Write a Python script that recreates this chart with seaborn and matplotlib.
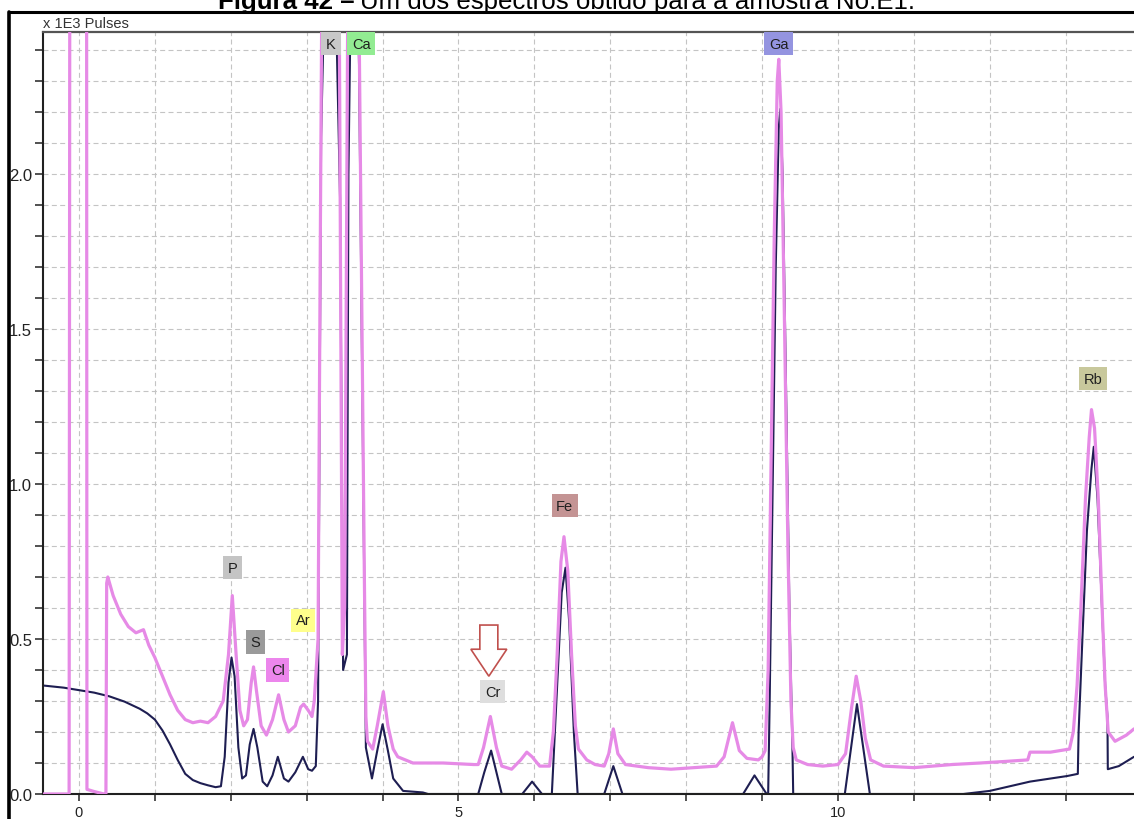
import numpy as np
import pandas as pd
import matplotlib
matplotlib.use("Agg")
import matplotlib.pyplot as plt
from matplotlib.lines import Line2D
from matplotlib.patches import FancyArrow
import seaborn as sns

# ---- spectrum data (energy in keV, intensity in 1E3 pulses) ----
fit_energy = [-0.474, -0.2, 0.0, 0.2, 0.4, 0.6, 0.8, 0.9, 1.0, 1.1, 1.2, 1.3, 1.4, 1.5,
              1.6, 1.7, 1.8, 1.87, 1.92, 1.97, 2.01, 2.05, 2.10, 2.15, 2.20, 2.25, 2.30,
              2.35, 2.42, 2.48, 2.55, 2.62, 2.70, 2.76, 2.85, 2.95, 3.02, 3.07, 3.12,
              3.15, 3.19, 3.31, 3.44, 3.48, 3.53, 3.55, 3.62, 3.69, 3.76, 3.78, 3.86,
              3.93, 4.00, 4.07, 4.14, 4.27, 4.53, 4.60, 5.26, 5.34, 5.43, 5.50, 5.57,
              5.84, 5.97, 6.10, 6.23, 6.30, 6.36, 6.41, 6.46, 6.52, 6.57, 6.92, 7.04,
              7.16, 8.75, 8.90, 9.06, 9.08, 9.10, 9.14, 9.18, 9.22, 9.24, 9.27, 9.31,
              9.36, 9.40, 9.41, 9.41, 10.09, 10.25, 10.42, 11.65, 12.0, 12.53, 13.02,
              13.16, 13.17, 13.22, 13.28, 13.34, 13.37, 13.42, 13.47, 13.52, 13.55,
              13.555, 13.7, 13.9]
fit_counts = [0.350, 0.343, 0.335, 0.327, 0.315, 0.298, 0.275, 0.26, 0.24, 0.205, 0.16,
              0.11, 0.065, 0.045, 0.035, 0.028, 0.022, 0.025, 0.12, 0.36, 0.44, 0.38,
              0.15, 0.05, 0.06, 0.16, 0.21, 0.15, 0.04, 0.025, 0.06, 0.12, 0.05, 0.04,
              0.07, 0.12, 0.08, 0.075, 0.09, 0.30, 2.12, 3.40, 1.92, 0.40, 0.45, 2.00,
              3.30, 2.35, 0.65, 0.15, 0.05, 0.14, 0.225, 0.14, 0.05, 0.01, 0.005, 0.0,
              0.0, 0.07, 0.14, 0.07, 0.0, 0.0, 0.04, 0.0, 0.0, 0.35, 0.65, 0.73, 0.55,
              0.20, 0.0, 0.0, 0.09, 0.0, 0.0, 0.06, 0.0, 0.0, 0.30, 1.00, 1.70, 2.15,
              2.21, 2.00, 1.40, 0.60, 0.15, 0.0, 0.0, 0.0, 0.29, 0.0, 0.0, 0.01, 0.04,
              0.058, 0.065, 0.20, 0.50, 0.85, 1.05, 1.12, 0.95, 0.65, 0.35, 0.25, 0.08,
              0.09, 0.12]

meas_energy = [-0.474, -0.13, -0.12, 0.10, 0.105, 0.20, 0.33, 0.355, 0.365, 0.38, 0.45,
               0.55, 0.65, 0.75, 0.85, 0.92, 1.0, 1.1, 1.2, 1.3, 1.4, 1.5, 1.6, 1.7, 1.8,
               1.9, 1.97, 2.02, 2.07, 2.12, 2.17, 2.22, 2.27, 2.30, 2.34, 2.40, 2.47,
               2.55, 2.63, 2.70, 2.76, 2.85, 2.92, 2.96, 3.02, 3.07, 3.10, 3.15, 3.18,
               3.20, 3.30, 3.43, 3.47, 3.50, 3.54, 3.62, 3.69, 3.76, 3.78, 3.80, 3.87,
               3.93, 4.01, 4.07, 4.14, 4.20, 4.30, 4.40, 4.8, 5.2, 5.26, 5.33, 5.42,
               5.50, 5.57, 5.70, 5.82, 5.90, 5.97, 6.07, 6.20, 6.25, 6.30, 6.35, 6.39,
               6.44, 6.49, 6.54, 6.58, 6.69, 6.80, 6.92, 6.98, 7.04, 7.10, 7.20, 7.50,
               7.80, 8.10, 8.40, 8.50, 8.61, 8.70, 8.80, 8.95, 9.00, 9.04, 9.08, 9.12,
               9.16, 9.20, 9.22, 9.25, 9.29, 9.34, 9.38, 9.41, 9.45, 9.60, 9.80, 10.0,
               10.10, 10.18, 10.24, 10.30, 10.36, 10.43, 10.60, 11.0, 11.5, 11.87, 12.2,
               12.5, 12.53, 12.8, 13.05, 13.10, 13.15, 13.20, 13.26, 13.31, 13.34, 13.38,
               13.43, 13.48, 13.52, 13.56, 13.65, 13.8, 13.9]
meas_counts = [0.0, 0.0, 3.0, 3.0, 0.015, 0.008, 0.0, 0.0, 0.68, 0.70, 0.64, 0.58, 0.54,
               0.52, 0.53, 0.48, 0.44, 0.38, 0.32, 0.27, 0.24, 0.23, 0.235, 0.23, 0.25,
               0.30, 0.45, 0.64, 0.45, 0.27, 0.22, 0.24, 0.36, 0.41, 0.33, 0.22, 0.19,
               0.24, 0.32, 0.24, 0.20, 0.22, 0.28, 0.29, 0.27, 0.25, 0.30, 0.50, 1.80,
               2.60, 3.80, 2.50, 0.45, 0.60, 2.50, 3.50, 2.50, 0.70, 0.25, 0.17, 0.145,
               0.22, 0.33, 0.22, 0.145, 0.12, 0.11, 0.10, 0.10, 0.095, 0.095, 0.15, 0.25,
               0.15, 0.09, 0.08, 0.11, 0.135, 0.12, 0.09, 0.09, 0.20, 0.45, 0.75, 0.83,
               0.72, 0.45, 0.22, 0.145, 0.11, 0.095, 0.09, 0.13, 0.21, 0.13, 0.095, 0.085,
               0.08, 0.085, 0.09, 0.12, 0.23, 0.14, 0.115, 0.11, 0.12, 0.14, 0.40, 1.10,
               1.80, 2.30, 2.37, 2.20, 1.60, 0.80, 0.30, 0.15, 0.11, 0.095, 0.09, 0.095,
               0.13, 0.28, 0.38, 0.30, 0.18, 0.11, 0.09, 0.085, 0.095, 0.10, 0.105, 0.11,
               0.135, 0.135, 0.145, 0.20, 0.35, 0.60, 0.95, 1.15, 1.24, 1.18, 0.95, 0.60,
               0.35, 0.20, 0.17, 0.19, 0.21]

# element markers: name, line energy, label height
element_names = ["P", "S", "Cl", "Ar", "K", "Ca", "Cr", "Fe", "Ga", "Rb"]
element_energy = [2.02, 2.32, 2.62, 2.95, 3.32, 3.72, 5.45, 6.40, 9.22, 13.36]
element_label_y = [0.73, 0.49, 0.40, 0.56, 2.42, 2.42, 0.33, 0.93, 2.42, 1.34]
element_colors = {"P": "#c4c4c4", "S": "#9a9a9a", "Cl": "#ec86ec", "Ar": "#ffff8c",
                  "K": "#c8c8c8", "Ca": "#92ec92", "Cr": "#dedede", "Fe": "#c49494",
                  "Ga": "#9494e0", "Rb": "#c8c89c"}

cr_arrow_top = 0.545
cr_arrow_tip = 0.38

y_ticks = np.round(np.arange(0.0, 2.41, 0.1), 1)
x_ticks = np.arange(0, 14, 1)

fit_df = pd.DataFrame({"energy": fit_energy, "counts": fit_counts})
meas_df = pd.DataFrame({"energy": meas_energy, "counts": meas_counts})

sns.set_theme(style="white")
plt.rcParams["font.family"] = ["Liberation Sans", "DejaVu Sans"]

W, H = 1134, 820
fig = plt.figure(figsize=(W / 100, H / 100), dpi=100)
fig.patch.set_facecolor("white")
ax = fig.add_axes([43 / W, 1 - 795 / H, 1 - 43 / W, (795 - 33) / H])
ax.set_facecolor("white")

# dashed grid
for yv in y_ticks[1:]:
    ax.axhline(yv, color="#c4c4c4", lw=0.8, ls=(0, (4.5, 3)), zorder=0)
for xv in x_ticks:
    ax.axvline(xv, color="#c4c4c4", lw=0.8, ls=(0, (4.5, 3)), zorder=0)

sns.lineplot(data=fit_df, x="energy", y="counts", sort=False, estimator=None,
             color="#1e1e52", lw=1.5, ax=ax, zorder=2)
sns.lineplot(data=meas_df, x="energy", y="counts", sort=False, estimator=None,
             color="#e68ae6", lw=2.3, ax=ax, zorder=3)

ax.set_xlim(-0.474, 13.90)
ax.set_ylim(0, 2.458)
ax.set_xlabel("")
ax.set_ylabel("")

ax.set_yticks(y_ticks)
ax.set_yticklabels([f"{v:.1f}" if abs(v * 2 - round(v * 2)) < 1e-6 else "" for v in y_ticks])
ax.set_xticks(x_ticks)
ax.set_xticklabels([str(v) if v % 5 == 0 else "" for v in x_ticks])
ax.tick_params(axis="y", direction="out", length=6, width=1.2, color="#333333",
               labelsize=12, labelcolor="#222222", pad=2, left=True)
ax.tick_params(axis="x", direction="out", length=5, width=1.2, color="#333333",
               labelsize=10.5, labelcolor="#222222", pad=3, bottom=True)

for side in ["left", "bottom"]:
    ax.spines[side].set_color("#202020")
    ax.spines[side].set_linewidth(1.5)
ax.spines["top"].set_color("#555555")
ax.spines["top"].set_linewidth(1.6)
ax.spines["right"].set_visible(False)

# element labels
for name, ex, ly in zip(element_names, element_energy, element_label_y):
    ax.text(ex, ly, name, ha="center", va="center", fontsize=10.5, color="#202020",
            zorder=5, bbox=dict(boxstyle="square,pad=0.32", fc=element_colors[name], ec="none"))

# hollow arrow pointing at the Cr line
cr_x = element_energy[element_names.index("Cr")] - 0.05
ax.add_patch(FancyArrow(cr_x, cr_arrow_top, 0, cr_arrow_tip - cr_arrow_top,
                        width=0.237, head_width=0.474, head_length=0.087,
                        length_includes_head=True, fc="white", ec="#c0504d", lw=1.2,
                        zorder=6))

# unit caption above the axes
fig.text(43 / W, 1 - 28 / H, "x 1E3 Pulses", fontsize=10.5, color="#333333",
         ha="left", va="baseline")

# figure caption (partly outside the top edge)
renderer = fig.canvas.get_renderer()
t_bold = fig.text(218 / W, 1 - 9 / H, "Figura 42 –", fontsize=18.6, fontweight="bold",
                  color="black", ha="left", va="baseline")
bb = t_bold.get_window_extent(renderer)
fig.text((bb.x1 + 6) / W, 1 - 9 / H, "Um dos espectros obtido para a amostra No.E1.",
         fontsize=18.6, color="black", ha="left", va="baseline")

# frame around the figure
fig.add_artist(Line2D([9 / W, 1], [1 - 13 / H, 1 - 13 / H], transform=fig.transFigure,
                      color="black", lw=2.2))
fig.add_artist(Line2D([9 / W, 9 / W], [0, 1 - 13 / H], transform=fig.transFigure,
                      color="black", lw=2.6))

fig.savefig("out.png", dpi=100, facecolor="white")
